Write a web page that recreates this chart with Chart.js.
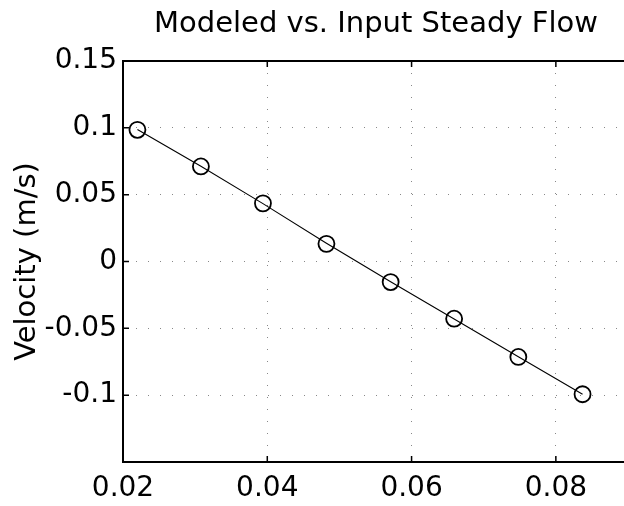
<!DOCTYPE html>
<html>
<head>
<meta charset="utf-8">
<script src="https://cdn.jsdelivr.net/npm/chart.js@4/dist/chart.umd.min.js"></script>
<style>
  html, body { margin: 0; padding: 0; background: #fff; overflow: hidden; }
  #wrap { width: 752px; height: 506px; }
</style>
</head>
<body>
<div id="wrap"><canvas id="flow-chart" width="752" height="506"></canvas></div>
<script>
// input points (circles)
const inputX = [0.0220, 0.0308, 0.0394, 0.0482, 0.0571, 0.0659, 0.0748, 0.0837];
const inputVelocity = [0.0985, 0.0711, 0.0435, 0.0132, -0.0154, -0.0428, -0.0714, -0.0993];

// modeled line
const modelX = [0.0220, 0.0308, 0.0394, 0.0482, 0.0571, 0.0659, 0.0748, 0.0837];
const modelVelocity = [0.0988, 0.0713, 0.0433, 0.0136, -0.0152, -0.0430, -0.0712, -0.0993];

// axes
const xTicks = [0.02, 0.04, 0.06, 0.08];
const xTickLabels = ['0.02', '0.04', '0.06', '0.08'];
const yTicks = [-0.15, -0.1, -0.05, 0, 0.05, 0.1, 0.15];
const yTickLabels = ['', '-0.1', '-0.05', '0', '0.05', '0.1', '0.15'];

const FONT = "'DejaVu Sans', sans-serif";

const toPoints = (xs, ys) => xs.map((x, i) => ({ x, y: ys[i] }));

// top, left and bottom sides of the plot box plus small inward tick marks
const framePlugin = {
    id: 'frame',
    afterDraw(chart) {
        const { ctx, chartArea: a, scales } = chart;
        ctx.save();
        ctx.strokeStyle = '#000';
        ctx.lineWidth = 2;
        ctx.lineCap = 'butt';
        ctx.beginPath();
        ctx.moveTo(a.left, a.top); ctx.lineTo(a.right, a.top);
        ctx.moveTo(a.left, a.top); ctx.lineTo(a.left, a.bottom);
        ctx.moveTo(a.left, a.bottom); ctx.lineTo(a.right, a.bottom);
        ctx.stroke();
        ctx.lineWidth = 1.5;
        ctx.beginPath();
        xTicks.forEach(v => {
            const px = scales.x.getPixelForValue(v);
            ctx.moveTo(px, a.bottom); ctx.lineTo(px, a.bottom - 6);
            ctx.moveTo(px, a.top); ctx.lineTo(px, a.top + 6);
        });
        yTicks.forEach(v => {
            const py = scales.y.getPixelForValue(v);
            ctx.moveTo(a.left, py); ctx.lineTo(a.left + 6, py);
        });
        ctx.stroke();
        ctx.restore();
    }
};

const ctx = document.getElementById('flow-chart').getContext('2d');
new Chart(ctx, {
    type: 'scatter',
    data: {
        datasets: [{
            label: 'Modeled',
            data: toPoints(modelX, modelVelocity),
            showLine: true,
            borderColor: '#000',
            borderWidth: 1.1,
            pointRadius: 0,
            fill: false
        }, {
            label: 'Input',
            data: toPoints(inputX, inputVelocity),
            showLine: false,
            pointRadius: 8,
            pointBorderWidth: 1.8,
            pointBorderColor: '#000',
            pointBackgroundColor: 'rgba(0,0,0,0)'
        }]
    },
    options: {
        responsive: false,
        animation: false,
        layout: { padding: 0 },
        plugins: {
            legend: { display: false },
            tooltip: { enabled: false },
            title: {
                display: true,
                text: 'Modeled vs. Input Steady Flow',
                color: '#000',
                font: { family: FONT, size: 29, weight: 'normal', lineHeight: 1.2 },
                padding: { top: 7, bottom: 19.2 }
            }
        },
        scales: {
            x: {
                type: 'linear',
                min: 0.02,
                max: 0.09,
                afterBuildTicks: s => { s.ticks = xTicks.map(v => ({ value: v })); },
                afterFit: s => { s.height = 44; },
                ticks: {
                    color: '#000',
                    padding: 10,
                    maxRotation: 0,
                    autoSkip: false,
                    font: { family: FONT, size: 28 },
                    callback: (v, i) => xTickLabels[i]
                },
                grid: { color: '#888', lineWidth: 1, drawTicks: false },
                border: { color: '#000', width: 2, dash: [1, 11] }
            },
            y: {
                type: 'linear',
                min: -0.15,
                max: 0.15,
                afterBuildTicks: s => { s.ticks = yTicks.map(v => ({ value: v })); },
                afterFit: s => { s.width = 123; },
                ticks: {
                    color: '#000',
                    padding: 6,
                    autoSkip: false,
                    font: { family: FONT, size: 28 },
                    callback: (v, i) => yTickLabels[i]
                },
                grid: { color: '#888', lineWidth: 1, drawTicks: false },
                border: { color: '#000', width: 2, dash: [1, 11] },
                title: {
                    display: true,
                    text: 'Velocity (m/s)',
                    color: '#000',
                    font: { family: FONT, size: 29, lineHeight: 1.2 },
                    padding: { top: 10, bottom: 0 }
                }
            },
            y2: {
                type: 'linear',
                position: 'right',
                afterFit: s => { s.width = 124; },
                ticks: { display: false },
                grid: { display: false },
                border: { display: false }
            }
        }
    },
    plugins: [framePlugin]
});
</script>
</body>
</html>
